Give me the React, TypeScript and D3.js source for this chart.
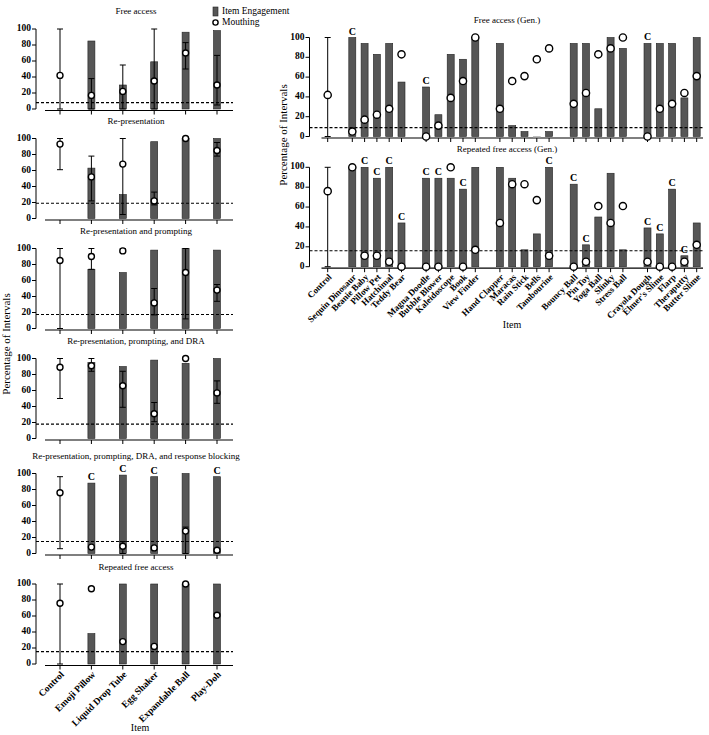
import React from "react";
import * as d3 from "d3";

// ---------- Left (primary items) ----------
const leftItems = ["Control", "Emoji Pillow", "Liquid Drop Tube", "Egg Shaker", "Expandable Ball", "Play-Doh"];
const leftTitles = [
  "Free access",
  "Re-presentation",
  "Re-presentation and prompting",
  "Re-presentation, prompting, and DRA",
  "Re-presentation, prompting, DRA, and response blocking",
  "Repeated free access",
];
const leftCrit = [8, 19, 17.5, 18, 15, 15.5];

const engFA = [null, 85, 30, 59, 96, 98];
const mouthFA = [42, 17, 22, 35, 70, 30];
const loFA = [0, 0, 0, 0, 50, 5];
const hiFA = [100, 38, 55, 100, 83, 67];
const cFA = [false, false, false, false, false, false];

const engRP = [null, 63, 30, 96, 100, 100];
const mouthRP = [93, 52, 68, 22, 100, 85];
const loRP = [61, 22, 5, 17, null, 78];
const hiRP = [100, 78, 100, 33, null, 95];
const cRP = [false, false, false, false, false, false];

const engRPP = [null, 74, 70, 98, 100, 98];
const mouthRPP = [85, 90, 97, 32, 70, 48];
const loRPP = [0, 74, 95, 17, 12, 34];
const hiRPP = [100, 100, 100, 50, 100, 55];
const cRPP = [false, false, false, false, false, false];

const engDRA = [null, 95, 90, 98, 94, 100];
const mouthDRA = [89, 91, 66, 31, 100, 57];
const loDRA = [50, 84, 39, 21, null, 44];
const hiDRA = [100, 100, 84, 45, null, 72];
const cDRA = [false, false, false, false, false, false];

const engRB = [null, 88, 98, 96, 100, 96];
const mouthRB = [76, 8, 9, 7, 28, 4];
const loRB = [6, null, 0, null, 0, null];
const hiRB = [96, null, 15, null, 33, null];
const cRB = [false, true, true, true, false, true];

const engRFA = [null, 38, 100, 100, 100, 100];
const mouthRFA = [76, 94, 28, 22, 100, 61];
const loRFA = [0, null, null, null, null, null];
const hiRFA = [100, null, null, null, null, null];
const cRFA = [false, false, false, false, false, false];

// ---------- Right (generalization items) ----------
const rightDomain = [
  "Control", "g1",
  "Sequin Dinosaur", "Beanie Baby", "Pillow Pet", "Hatchimal", "Teddy Bear", "g2",
  "Magna Doodle", "Bubble Blower", "Kaleidoscope", "Book", "View Finder", "g3",
  "Hand Clapper", "Maracas", "Rain Stick", "Bells", "Tambourine", "g4",
  "Bouncy Ball", "Pin Toy", "Yoga Ball", "Slinky", "Stress Ball", "g5",
  "Crayola Dough", "Elmer's Slime", "Flarp", "Theraputty", "Butter Slime",
];
const rightTitles = ["Free access (Gen.)", "Repeated free access (Gen.)"];
const rightCrit = [9, 16];

const engGen = [null, 100, 94, 83, 94, 55, 50, 22, 83, 78, 100, 94, 11, 5, 0, 5, 94, 94, 28, 100, 89, 94, 94, 94, 39, 100];
const mouthGen = [42, 5, 17, 22, 28, 83, 0, 11, 39, 56, 100, 28, 56, 61, 78, 89, 33, 44, 83, 89, 100, 0, 28, 33, 44, 61];
const loGen = [0, ...Array(25).fill(null)];
const hiGen = [100, ...Array(25).fill(null)];
const cGen = [false, true, false, false, false, false, true, false, false, false, false, false, false, false, false, false, false, false, false, false, false, true, false, false, false, false];

const engRGen = [null, 100, 100, 89, 100, 44, 89, 89, 89, 78, 100, 100, 89, 17, 33, 100, 83, 22, 50, 94, 17, 39, 33, 78, 11, 44];
const mouthRGen = [76, 100, 11, 11, 5, 0, 0, 0, 100, 0, 17, 44, 83, 83, 67, 11, 0, 5, 61, 44, 61, 5, 0, 0, 5, 22];
const loRGen = [0, ...Array(25).fill(null)];
const hiRGen = [100, ...Array(25).fill(null)];
const cRGen = [false, false, true, true, true, true, true, true, false, true, false, false, false, false, false, true, true, true, false, false, false, true, true, true, true, false];

const FONT = "'Liberation Serif', 'Times New Roman', serif";
const BAR_FILL = "#565656";

type PanelProps = {
  title: string;
  titleX: number;
  titleY: number;
  domain: string[];
  items: string[];
  xRange: [number, number];
  axisX: number;
  axisStart: number;
  axisEnd: number;
  top: number;
  bottom: number;
  eng: (number | null)[];
  mouth: (number | null)[];
  lo: (number | null)[];
  hi: (number | null)[];
  cflags: boolean[];
  crit: number;
  labels: boolean;
  labelSize: number;
  r: number;
  bw: number;
};

function Panel(p: PanelProps) {
  const y = d3.scaleLinear().domain([0, 100]).range([p.bottom, p.top]);
  const x = d3.scalePoint<string>().domain(p.domain).range(p.xRange);
  const ticks = [0, 20, 40, 60, 80, 100];
  const xAxisY = y(0) + 1.5;
  return (
    <g>
      <text x={p.titleX} y={p.titleY} textAnchor="middle" dominantBaseline="middle" fontSize={9} fontFamily={FONT}>
        {p.title}
      </text>
      {/* y axis */}
      <line x1={p.axisX} x2={p.axisX} y1={y(0)} y2={y(100)} stroke="#000" strokeWidth={1} />
      {ticks.map((t) => (
        <g key={t}>
          <line x1={p.axisX - 4} x2={p.axisX} y1={y(t)} y2={y(t)} stroke="#000" strokeWidth={1} />
          <text x={p.axisX - 5} y={y(t)} textAnchor="end" dominantBaseline="middle" fontSize={9.5} fontWeight="bold" fontFamily={FONT}>
            {t}
          </text>
        </g>
      ))}
      {/* x axis */}
      <line x1={p.axisStart} x2={p.axisEnd} y1={xAxisY} y2={xAxisY} stroke="#000" strokeWidth={1.2} />
      {p.items.map((it) => (
        <line key={it} x1={x(it)} x2={x(it)} y1={xAxisY} y2={xAxisY + 4} stroke="#000" strokeWidth={1} />
      ))}
      {/* bars */}
      {p.items.map((it, i) => {
        const v = p.eng[i];
        if (v === null || v === undefined) return null;
        return (
          <rect key={it} x={x(it)! - p.bw / 2} y={y(v)} width={p.bw} height={Math.max(0.5, y(0) - y(v))}
            fill={v === 0 ? "#bbb" : BAR_FILL} stroke={v === 0 ? "#bbb" : "#222"} strokeWidth={0.6} />
        );
      })}
      {/* criterion line */}
      <line x1={p.axisX} x2={p.axisEnd} y1={y(p.crit)} y2={y(p.crit)} stroke="#000" strokeWidth={1.1} strokeDasharray="3,2" />
      {/* error bars */}
      {p.items.map((it, i) => {
        const l = p.lo[i];
        const h = p.hi[i];
        if (l === null || h === null || l === undefined || h === undefined) return null;
        const cx = x(it)!;
        return (
          <g key={it}>
            <line x1={cx} x2={cx} y1={y(l)} y2={y(h)} stroke="#000" strokeWidth={1} />
            <line x1={cx - 3} x2={cx + 3} y1={y(l)} y2={y(l)} stroke="#000" strokeWidth={1} />
            <line x1={cx - 3} x2={cx + 3} y1={y(h)} y2={y(h)} stroke="#000" strokeWidth={1} />
          </g>
        );
      })}
      {/* mouthing points */}
      {p.items.map((it, i) => {
        const v = p.mouth[i];
        if (v === null || v === undefined) return null;
        return <circle key={it} cx={x(it)} cy={y(v)} r={p.r} fill="#fff" stroke="#000" strokeWidth={1.4} />;
      })}
      {/* C labels */}
      {p.items.map((it, i) =>
        p.cflags[i] ? (
          <text key={it} x={x(it)} y={y(p.eng[i] ?? 0) - 3} textAnchor="middle" fontSize={10} fontWeight="bold" fontFamily={FONT}>
            C
          </text>
        ) : null
      )}
      {/* x labels */}
      {p.labels &&
        p.items.map((it) => (
          <text key={it} transform={`translate(${x(it)! + 3},${xAxisY + 8}) rotate(-45)`} textAnchor="end"
            dominantBaseline="middle" fontSize={p.labelSize} fontWeight="bold" fontFamily={FONT}>
            {it}
          </text>
        ))}
    </g>
  );
}

const leftTops = [29, 138.5, 248.5, 358.5, 473.5, 584];
const leftTitleY = [12, 122, 232, 342, 457, 568];
const leftData = [
  [engFA, mouthFA, loFA, hiFA, cFA],
  [engRP, mouthRP, loRP, hiRP, cRP],
  [engRPP, mouthRPP, loRPP, hiRPP, cRPP],
  [engDRA, mouthDRA, loDRA, hiDRA, cDRA],
  [engRB, mouthRB, loRB, hiRB, cRB],
  [engRFA, mouthRFA, loRFA, hiRFA, cRFA],
];
const rightTops = [37.5, 167.3];
const rightBottoms = [136.5, 266.7];
const rightTitleY = [21, 150];
const rightData = [
  [engGen, mouthGen, loGen, hiGen, cGen],
  [engRGen, mouthRGen, loRGen, hiRGen, cRGen],
];

export default function App() {
  return (
    <svg width={709} height={735} style={{ position: "absolute", left: 0, top: 0, background: "#fff" }}>
      <rect width={709} height={735} fill="#fff" />
      {leftData.map((d, k) => (
        <Panel key={k} title={leftTitles[k]} titleX={136} titleY={leftTitleY[k]} domain={leftItems} items={leftItems}
          xRange={[60, 217]} axisX={36} axisStart={45} axisEnd={233} top={leftTops[k]} bottom={leftTops[k] + 80}
          eng={d[0] as any} mouth={d[1] as any} lo={d[2] as any} hi={d[3] as any} cflags={d[4] as any}
          crit={leftCrit[k]} labels={k === 5} labelSize={9.5} r={3} bw={7} />
      ))}
      {rightData.map((d, k) => (
        <Panel key={k} title={rightTitles[k]} titleX={507} titleY={rightTitleY[k]} domain={rightDomain}
          items={rightDomain.filter((n) => !/^g\d$/.test(n))}
          xRange={[327.7, 696.7]} axisX={309.5} axisStart={321.5} axisEnd={703} top={rightTops[k]} bottom={rightBottoms[k]}
          eng={d[0] as any} mouth={d[1] as any} lo={d[2] as any} hi={d[3] as any} cflags={d[4] as any}
          crit={rightCrit[k]} labels={k === 1} labelSize={9} r={3.6} bw={7} />
      ))}
      {/* axis titles */}
      <text transform="translate(7,344) rotate(-90)" textAnchor="middle" dominantBaseline="middle" fontSize={11} fontFamily={FONT}>
        Percentage of Intervals
      </text>
      <text transform="translate(284,135) rotate(-90)" textAnchor="middle" dominantBaseline="middle" fontSize={11} fontFamily={FONT}>
        Percentage of Intervals
      </text>
      <text x={140} y={729} textAnchor="middle" dominantBaseline="middle" fontSize={10} fontFamily={FONT}>Item</text>
      <text x={512} y={326} textAnchor="middle" dominantBaseline="middle" fontSize={10} fontFamily={FONT}>Item</text>
      {/* legend */}
      <rect x={213} y={7} width={5} height={9} fill={BAR_FILL} stroke="#222" strokeWidth={0.6} />
      <text x={222} y={12} dominantBaseline="middle" fontSize={9.5} fontFamily={FONT}>Item Engagement</text>
      <circle cx={215.5} cy={22.5} r={2.6} fill="#fff" stroke="#000" strokeWidth={1.4} />
      <text x={222} y={23} dominantBaseline="middle" fontSize={9.5} fontFamily={FONT}>Mouthing</text>
    </svg>
  );
}
